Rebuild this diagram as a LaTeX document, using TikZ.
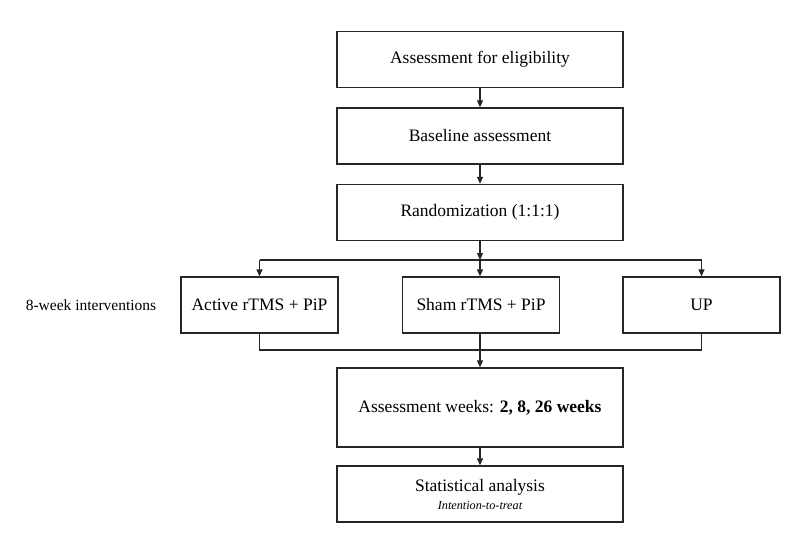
\documentclass[tikz,border=0pt]{standalone}
\usepackage{fontspec}
\setmainfont{Liberation Serif}
\usetikzlibrary{arrows.meta}
\begin{document}
\begin{tikzpicture}[x=1pt,y=-1pt,
  box/.style={draw=black!85, line width=1.3pt, fill=white, inner sep=0pt,
    minimum width=286pt, minimum height=56pt, align=center,
    font=\fontsize{17.5}{21}\selectfont},
  ibox/.style={box, minimum width=157pt},
  conn/.style={draw=black!85, line width=1.2pt},
  arr/.style={conn, -{Triangle[length=7pt,width=6pt]}}]
\useasboundingbox (0,0) rectangle (800,550);
\fill[white] (0,0) rectangle (800,550);

\node[box] (elig) at (480,59.5) {Assessment for eligibility};
\node[box] (base) at (480,136) {Baseline assessment};
\node[box] (rand) at (480,212.5) {Randomization (1:1:1)};
\node[ibox] (act) at (259.5,305) {Active rTMS + PiP};
\node[ibox] (sham) at (481,305) {Sham rTMS + PiP};
\node[ibox] (up) at (701.5,305) {UP};
\node[box, minimum height=79pt] (ass) at (480,407.5) {Assessment weeks: \textbf{2, 8, 26 weeks}};
\node[box] (stat) at (480,494) {Statistical analysis\\[-3pt]{\fontsize{12.2}{14}\itshape Intention-to-treat}};
\node[font=\fontsize{15.5}{18}\selectfont, inner sep=0pt] (lbl) at (91,305) {8-week interventions};

\coordinate (br) at (480,260);
\coordinate (bl) at (act.north |- br);
\coordinate (brr) at (up.north |- br);
\coordinate (mg) at (480,350);
\coordinate (ml) at (act.south |- mg);
\coordinate (mr) at (up.south |- mg);

\draw[arr] (elig.south) -- (base.north);
\draw[arr] (base.south) -- (rand.north);
\draw[arr] (rand.south) -- (br);
\draw[conn] (bl) -- (brr);
\draw[arr] (bl) -- (act.north);
\draw[arr] (br) -- (br |- sham.north);
\draw[arr] (brr) -- (up.north);
\draw[conn] (act.south) -- (ml) -- (mr) -- (up.south);
\draw[conn] (sham.south -| mg) -- (mg);
\draw[arr] (mg) -- (ass.north);
\draw[arr] (ass.south) -- (stat.north);
\end{tikzpicture}
\end{document}
